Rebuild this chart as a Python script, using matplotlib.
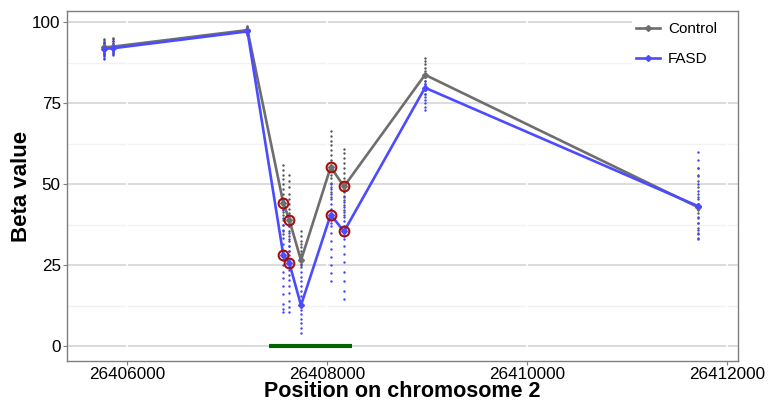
import numpy as np
import matplotlib.pyplot as plt
from matplotlib.patches import Rectangle

plt.rcParams['font.family'] = ['Liberation Sans', 'DejaVu Sans']

# CpG sites and group means
sites = [26405770, 26405860, 26407205, 26407563, 26407623, 26407740,
         26408037, 26408170, 26408980, 26411705]
control_mean = [92.3, 92.5, 97.6, 44.2, 39.0, 26.5, 55.3, 49.3, 83.8, 43.0]
fasd_mean = [91.8, 92.0, 97.2, 28.2, 25.7, 12.6, 40.6, 35.4, 79.8, 43.3]

# individual samples per site
control_dots = [
    [95.0, 94.5, 94.0, 93.5, 93.0, 92.6, 92.2, 91.8, 91.4, 91.0, 90.6, 90.2, 89.8],
    [95.3, 94.7, 94.1, 93.5, 93.0, 92.5, 92.0, 91.5, 91.0, 90.5, 90.0],
    [99.0, 98.6, 98.2, 97.8, 97.4, 97.0, 96.6],
    [56.0, 54.5, 53.0, 51.5, 50.0, 48.5, 47.0, 45.5, 44.5, 43.5, 42.5, 41.5, 40.5, 39.0, 37.5, 36.0, 34.5],
    [53.0, 51.0, 49.0, 47.0, 45.5, 44.0, 42.5, 41.0, 40.0, 39.0, 38.0, 37.0, 35.5, 34.0, 32.5, 31.0, 29.5],
    [35.5, 34.0, 32.5, 31.5, 30.5, 29.5, 28.5, 27.5, 26.5, 25.5, 24.5],
    [66.5, 65.0, 63.5, 62.0, 60.5, 59.0, 57.5, 56.0, 55.0, 54.0, 53.0, 52.0, 50.5, 49.0, 47.5, 46.0],
    [61.0, 59.5, 58.0, 56.5, 55.0, 53.5, 52.0, 50.5, 49.5, 48.5, 47.5, 46.5, 45.0, 43.5, 42.0, 40.5],
    [89.0, 88.0, 87.0, 86.0, 85.0, 84.0, 83.0, 82.0, 81.0, 80.0, 79.0, 78.0],
    [55.0, 53.0, 51.0, 49.0, 47.0, 45.5, 44.0, 42.5, 41.0, 39.5, 38.0, 36.5, 35.0, 33.5],
]
fasd_dots = [
    [94.0, 93.2, 92.5, 91.9, 91.3, 90.7, 90.1, 89.5, 89.0, 88.6],
    [94.2, 93.4, 92.6, 92.0, 91.4, 90.8, 90.2],
    [98.4, 97.8, 97.2, 96.6, 96.0],
    [45.0, 42.0, 39.5, 37.5, 35.5, 33.5, 31.5, 29.5, 28.0, 26.5, 25.0, 23.0, 21.0, 18.5, 16.0, 13.0, 11.5, 10.5],
    [39.0, 37.0, 35.0, 33.0, 31.0, 29.5, 28.0, 26.5, 25.5, 24.5, 23.5, 22.0, 20.5, 18.5, 16.5, 14.0, 12.0, 10.5],
    [27.0, 25.0, 23.0, 21.5, 20.0, 18.5, 17.0, 15.5, 14.0, 13.0, 12.0, 11.0, 10.0, 8.5, 7.0, 5.5, 4.0],
    [50.0, 48.5, 47.0, 45.5, 44.0, 42.5, 41.0, 40.0, 39.0, 38.0, 37.0, 35.0, 32.5, 30.0, 27.5, 25.0, 22.5, 20.0],
    [46.0, 44.5, 43.0, 41.5, 40.0, 38.5, 37.0, 36.0, 35.0, 34.0, 33.0, 31.0, 28.5, 26.0, 23.0, 20.0, 17.0, 14.5],
    [83.0, 82.0, 81.0, 80.0, 79.0, 78.0, 77.0, 76.0, 75.0, 74.0, 73.0],
    [60.0, 57.5, 55.0, 52.5, 50.0, 48.0, 46.0, 44.0, 42.0, 40.0, 38.0, 36.0, 34.5, 33.0],
]

# significant sites (circled) and the region bar
signif = [3, 4, 6, 7]
region = [26407420, 26408247]

xticks = [26406000, 26408000, 26410000, 26412000]
yticks = [0, 25, 50, 75, 100]

gray = '#6e6e6e'
blue = '#4b4bff'

fig = plt.figure(figsize=(7.69, 4.03), dpi=100)
ax = fig.add_axes([0.0871, 0.1042, 0.8726, 0.8685])

# grid like ggplot: light horizontal, white vertical
for y in yticks:
    ax.axhline(y, color='#dcdcdc', lw=1.4, zorder=0.5)
for y in np.arange(12.5, 100, 25):
    ax.axhline(y, color='#f2f2f2', lw=1.0, zorder=0.5)
for x in xticks:
    ax.axvline(x, color='white', lw=1.2, zorder=0.6)

for s, vals in zip(sites, control_dots):
    ax.scatter([s] * len(vals), vals, s=3, color='#555555', lw=0, zorder=2)
for s, vals in zip(sites, fasd_dots):
    ax.scatter([s] * len(vals), vals, s=3, color='#4040ff', lw=0, zorder=2)

ax.plot(sites, control_mean, color=gray, lw=1.9, marker='D', ms=3, label='Control', zorder=3)
ax.plot(sites, fasd_mean, color=blue, lw=1.9, marker='D', ms=3, label='FASD', zorder=3)

sx = [sites[i] for i in signif]
ax.plot(sx, [control_mean[i] for i in signif], ls='none', marker='o', ms=7,
        mfc='none', mec='#a01010', mew=1.5, zorder=4)
ax.plot(sx, [fasd_mean[i] for i in signif], ls='none', marker='o', ms=7,
        mfc='none', mec='#a01010', mew=1.5, zorder=4)

ax.plot(region, [0, 0], color='#006400', lw=3, solid_capstyle='butt', zorder=3)

ax.set_xlim(26405400, 26412110)
ax.set_ylim(-4.6, 103.5)
ax.set_xticks(xticks)
ax.set_xticklabels([str(x) for x in xticks])
ax.set_yticks(yticks)
ax.tick_params(labelsize=12.3, color='#7f7f7f', length=3, width=0.8, pad=1.5, labelcolor='black')
for sp in ax.spines.values():
    sp.set_color('#7f7f7f')
    sp.set_linewidth(1.0)

fig.text(0.5235, 0.002, 'Position on chromosome 2', fontsize=15.5, fontweight='bold',
         ha='center', va='bottom')
ax.set_ylabel('Beta value', fontsize=16, fontweight='bold', labelpad=0)

# legend area covers grid
ax.add_patch(Rectangle((0.842, 0.78), 0.158, 0.22, transform=ax.transAxes,
                       facecolor='white', edgecolor='none', zorder=1))
ax.legend(loc='upper left', bbox_to_anchor=(0.848, 0.968), frameon=False,
          fontsize=11, handlelength=1.6, handletextpad=0.5, labelspacing=1.05,
          borderpad=0, borderaxespad=0)

fig.savefig('out.png', dpi=100)
